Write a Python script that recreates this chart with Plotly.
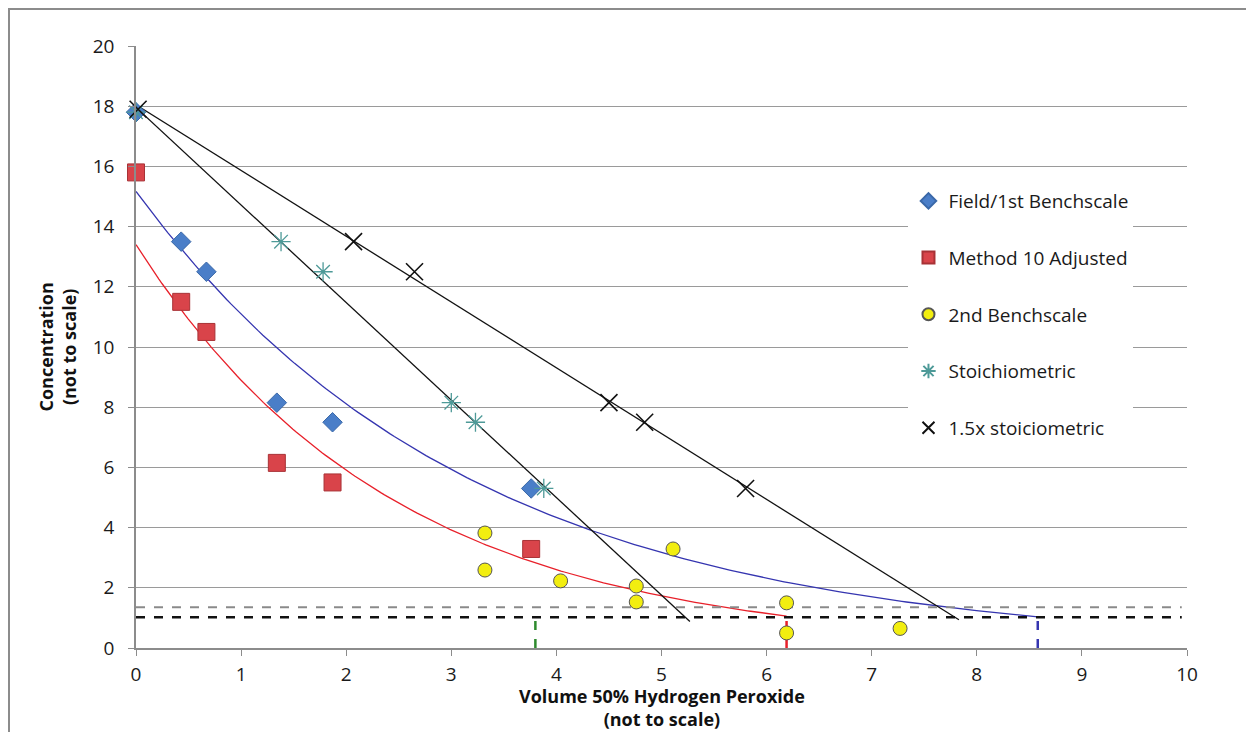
import numpy as np
import plotly.graph_objects as go

# ---------------- data ----------------
field_x = [0.0, 0.43, 0.67, 1.34, 1.87, 3.76]
field_y = [17.8, 13.5, 12.5, 8.15, 7.5, 5.3]

method10_x = [0.0, 0.43, 0.67, 1.34, 1.87, 3.76]
method10_y = [15.8, 11.5, 10.5, 6.15, 5.5, 3.29]

bench2_x = [3.32, 3.32, 4.04, 4.76, 4.76, 5.11, 6.19, 6.19, 7.27]
bench2_y = [3.82, 2.59, 2.23, 2.06, 1.53, 3.29, 1.5, 0.5, 0.65]

stoich_x = [0.0, 1.38, 1.78, 3.0, 3.23, 3.88]
stoich_y = [17.8, 13.5, 12.5, 8.15, 7.5, 5.3]

stoich15_x = [0.02, 2.07, 2.65, 4.5, 4.84, 5.8]
stoich15_y = [17.9, 13.5, 12.5, 8.15, 7.5, 5.3]

# trendline extents (x where each trendline ends)
field_trend_end = 8.58
method10_trend_end = 6.19
stoich_trend_end = 5.27
stoich15_trend_end = 7.83

# reference levels
limit_upper = 1.35   # grey dashed
limit_lower = 1.02   # black dashed
limit_x_end = 9.95
drop_x = [3.8, 6.19, 8.58]          # vertical dashed markers
drop_colors = ["#2E8B2E", "#E8202A", "#3535B0"]

x_ticks = list(range(0, 11))
y_ticks = list(range(0, 21, 2))

x_title = "<b>Volume 50% Hydrogen Peroxide<br>(not to scale)</b>"
y_title = "<b>Concentration<br>(not to scale)</b>"

FONT = "Open Sans"

fig = go.Figure()


def exp_trend(xs, ys, x_end):
    b, a = np.polyfit(np.array(xs), np.log(np.array(ys)), 1)
    xx = np.linspace(0, x_end, 200)
    return xx, np.exp(a) * np.exp(b * xx)


def lin_trend(xs, ys, x_end):
    m, c = np.polyfit(np.array(xs), np.array(ys), 1)
    xx = np.array([0.0, x_end])
    return xx, c + m * xx


# trendlines
for (xs, ys, end, color, kind) in [
    (field_x, field_y, field_trend_end, "#3535B0", "exp"),
    (method10_x, method10_y, method10_trend_end, "#E8202A", "exp"),
    (stoich_x, stoich_y, stoich_trend_end, "#111111", "lin"),
    (stoich15_x, stoich15_y, stoich15_trend_end, "#111111", "lin"),
]:
    tx, ty = exp_trend(xs, ys, end) if kind == "exp" else lin_trend(xs, ys, end)
    fig.add_trace(go.Scatter(x=tx, y=ty, mode="lines", showlegend=False,
                             line=dict(color=color, width=1.3), hoverinfo="skip"))

# reference dashed lines
fig.add_trace(go.Scatter(x=[0, limit_x_end], y=[limit_upper, limit_upper], mode="lines",
                         showlegend=False, line=dict(color="#8A8A8A", width=2, dash="dash")))
fig.add_trace(go.Scatter(x=[0, limit_x_end], y=[limit_lower, limit_lower], mode="lines",
                         showlegend=False, line=dict(color="#111111", width=2.5, dash="dash")))
for dx, dc in zip(drop_x, drop_colors):
    fig.add_trace(go.Scatter(x=[dx, dx], y=[0, limit_lower], mode="lines", showlegend=False,
                             line=dict(color=dc, width=2.5, dash="dash")))

# marker series
series = [
    ("Field/1st Benchscale", field_x, field_y,
     dict(symbol="diamond", size=15, color="#4A7EC8", line=dict(color="#3A68A8", width=1))),
    ("Method 10 Adjusted", method10_x, method10_y,
     dict(symbol="square", size=17, color="#D9444A", line=dict(color="#A83236", width=1))),
    ("2nd Benchscale", bench2_x, bench2_y,
     dict(symbol="circle", size=14, color="#F2EE10", line=dict(color="#555555", width=1))),
    ("Stoichiometric", stoich_x, stoich_y,
     dict(symbol="asterisk-open", size=16, color="#4E9A98", line=dict(color="#4E9A98", width=1.3))),
    ("1.5x stoiciometric", stoich15_x, stoich15_y,
     dict(symbol="x-thin-open", size=17, color="#111111", line=dict(color="#111111", width=1.6))),
]
for i, (name, xs, ys, mk) in enumerate(series):
    fig.add_trace(go.Scatter(x=xs, y=ys, mode="markers", name=name, marker=mk,
                             legendgroup=f"g{i}", cliponaxis=False))

fig.update_layout(
    width=1246, height=732,
    margin=dict(l=136, r=59, t=46, b=84),
    paper_bgcolor="white", plot_bgcolor="white",
    font=dict(family=FONT, color="#1a1a1a", size=17),
    legend=dict(x=0.735, y=0.774, xanchor="left", yanchor="top",
                bgcolor="white", borderwidth=0,
                font=dict(family=FONT, size=19, color="#1a1a1a"),
                traceorder="grouped", tracegroupgap=29, itemwidth=30,
                itemsizing="constant"),
    xaxis=dict(range=[0, 10], tickvals=x_ticks, showgrid=False, zeroline=False,
               showline=True, linecolor="#8C8C8C", linewidth=1.5, automargin=False,
               ticks="outside", ticklen=6, tickcolor="#8C8C8C", ticklabelstandoff=2,
               tickfont=dict(size=19, family=FONT, color="#1a1a1a")),
    yaxis=dict(range=[0, 20], tickvals=y_ticks, showgrid=True, gridcolor="#9A9A9A",
               gridwidth=1.2, zeroline=False, automargin=False,
               showline=True, linecolor="#8C8C8C", linewidth=1.5,
               ticks="outside", ticklen=6, tickcolor="#8C8C8C", ticklabelstandoff=10,
               tickfont=dict(size=19, family=FONT, color="#1a1a1a")),
    annotations=[
        dict(text=x_title, xref="paper", yref="paper", x=0.5, y=0,
             xanchor="center", yanchor="bottom", yshift=-84, borderpad=0,
             showarrow=False, font=dict(family=FONT, size=18, color="#111111")),
        dict(text=y_title, xref="paper", yref="paper", x=(56.5 - 136) / 1051, y=0.5,
             xanchor="center", yanchor="middle", textangle=-90, showarrow=False,
             font=dict(family=FONT, size=18, color="#111111")),
    ],
    shapes=[dict(type="rect", xref="paper", yref="paper",
                 x0=(9 - 136) / 1051, x1=(1262 - 136) / 1051,
                 y0=(648 - 760) / 602, y1=(648 - 9) / 602,
                 line=dict(color="#8C8C8C", width=2), fillcolor="rgba(0,0,0,0)", layer="below")],
)

fig.write_html("out.html", config={"displayModeBar": False},
               post_script="document.body.style.margin='0';")
